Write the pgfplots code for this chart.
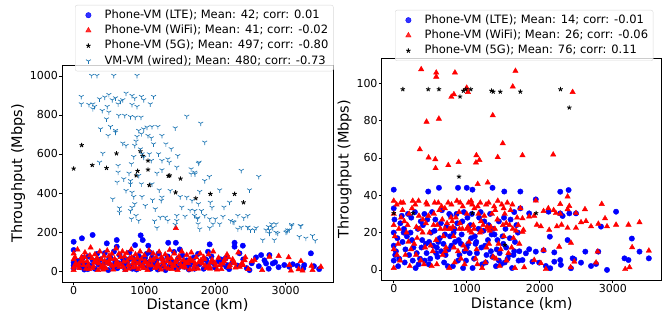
\documentclass[border=0pt]{standalone}
\usepackage{fontspec}
\setmainfont{DejaVu Sans}
\usepackage{pgfplots}
\pgfplotsset{compat=1.18}
\definecolor{ltec}{RGB}{0,0,255}
\definecolor{wific}{RGB}{255,0,0}
\definecolor{tabblue}{RGB}{31,119,180}
\pgfplotsset{
  common/.style={
    scale only axis, anchor=south west,
    axis line style={black, line width=0.8pt},
    tick style={black, line width=0.7pt},
    tick align=outside, major tick length=2.8pt,
    xtick pos=left, ytick pos=left,
    scaled x ticks=false, scaled y ticks=false,
    /pgf/number format/assume math mode=true,
    /pgf/number format/1000 sep={},
    tick label style={font=\fontsize{11}{13}\selectfont, inner sep=1.2pt},
    label style={font=\fontsize{14.5}{17}\selectfont},
    xlabel={Distance (km)}, ylabel={Throughput (Mbps)},
    xmin=-165, xmax=3670, xtick={0,1000,2000,3000},
    legend cell align=left,
    legend style={font=\fontsize{11.5}{13}\selectfont, fill=white, fill opacity=0.8, text opacity=1,
      draw=black!15, rounded corners=2pt, anchor=north west, row sep=4.3pt, column sep=4pt,
      inner xsep=3pt, inner ysep=4.5pt,
      nodes={inner xsep=2pt, inner ysep=0pt, text height=8.5pt, text depth=2.5pt}},
  },
  myleg/.style={legend image code/.code={\path (0pt,0pt) (20pt,0pt);\draw[mark repeat=2,mark phase=2,##1] plot coordinates {(0pt,0pt)(10pt,0pt)(20pt,0pt)};}},
  lte/.style={only marks, mark=*, mark size=2.7pt, color=ltec, myleg},
  wifi/.style={only marks, mark=triangle*, mark size=3.1pt, color=wific, myleg},
  fiveg/.style={only marks, mark=star, mark size=2.3pt, color=black, mark options={line width=0.9pt}, myleg},
  wired/.style={only marks, mark=Mercedes star flipped, mark size=2.8pt, color=tabblue, mark options={line width=0.7pt}, myleg},
}
\begin{document}
\begin{tikzpicture}
\begin{axis}[common,
  at={(62pt,32pt)}, width=271pt, height=217pt,
  ymin=-56, ymax=1056, ytick={0,200,400,600,800,1000},
  xlabel style={at={(axis description cs:0.5,-0.126)}, anchor=base},
  ylabel style={at={(axis description cs:-0.162,0.5)}, anchor=center},
  legend style={at={(axis description cs:0.048,1.2765)}},
]
\addplot[lte] coordinates {
(0,150)(0,108)(0,45)(0,30)(0,15)(117,168)(268,185)(469,142)(610,159)(610,125)(869,133)(948,183)(977,159)(1056,130)(1080,96)(1338,145)(1446,145)(1502,111)(1925,137)(2277,145)(2277,125)(2394,130)(1901,99)(3357,91)(2981,31)(2817,39)(2723,39)(2653,82)(2770,82)(2347,91)(3169,27)(3263,31)(3474,10)(3052,22)(2488,5)(2160,22)
(60,52)(95,20)(130,68)(150,8)(180,40)(210,75)(240,28)(270,55)(300,12)(330,88)(350,35)(380,60)(410,18)(440,92)(460,45)(490,5)(520,70)(540,30)(570,100)(590,50)(620,15)(650,82)(680,38)(700,62)(730,10)(760,48)(790,95)(810,25)(840,65)(870,42)(890,8)(920,78)(950,33)(980,58)(1000,20)(1030,88)(1060,45)(1090,12)(1110,70)(1140,36)(1170,55)(1200,90)(1220,18)(1250,62)(1280,40)(1300,5)(1330,75)(1360,28)(1390,50)(1420,98)(1450,15)(1480,65)(1510,35)(1540,80)(1570,22)(1600,55)(1630,8)(1660,42)(1700,70)(1730,25)(1760,88)(1800,48)(1840,12)(1870,60)(1900,30)(1950,75)(2000,18)(2050,50)(2100,35)(2150,65)(2200,10)(2250,45)(2320,28)(2400,60)(2450,15)(2520,40)(2580,70)(2620,25)(2700,55)(2760,12)(2850,45)(2900,20)(3100,35)(3250,15)(3400,25)
(100,38)(200,10)(320,48)(400,30)(500,58)(560,20)(640,40)(720,28)(780,60)(830,12)(900,50)(960,30)(1010,68)(1080,25)(1150,48)(1190,8)(1270,30)(1350,58)(1430,38)(1490,20)(1560,48)(1640,30)(1710,12)(1780,35)(1880,55)(1980,40)(2080,60)(2180,30)
};
\addlegendentry{Phone-VM (LTE); Mean: 42; corr: 0.01}
\addplot[wifi] coordinates {
(1446,220)(2559,56)(2667,5)(2770,73)(2901,77)(3042,70)(3052,31)(3183,9)(3216,51)(3366,27)(3498,22)(3380,5)(3239,2)(3075,2)(1925,22)
(0,90)(0,60)(0,20)(0,5)(30,40)(55,110)(80,15)(110,70)(140,30)(160,95)(190,50)(215,10)(240,120)(260,65)(280,25)(300,85)(325,45)(345,5)(370,100)(390,60)(410,30)(430,78)(455,15)(475,105)(495,50)(515,35)(540,88)(560,8)(580,62)(600,115)(625,40)(645,20)(665,72)(690,100)(710,48)(730,5)(750,92)(775,30)(795,65)(815,110)(835,18)(855,55)(875,85)(895,38)(915,10)(940,100)(960,62)(980,25)(1000,80)(1020,45)(1045,5)(1065,105)(1085,58)(1105,30)(1125,90)(1150,15)(1170,70)(1190,40)(1210,98)(1235,8)(1255,60)(1275,32)(1295,85)(1320,50)(1340,12)(1360,108)(1380,65)(1400,28)(1425,90)(1445,45)(1470,5)(1490,75)(1510,35)(1530,100)(1555,55)(1575,18)(1600,82)(1620,40)(1645,8)(1665,95)(1690,50)(1710,25)(1735,70)(1760,12)(1790,90)(1820,38)(1850,60)(1880,15)(1910,85)(1940,45)(1975,100)(2010,28)(2050,68)(2090,10)(2130,50)(2170,85)(2210,30)(2250,60)(2290,18)(2330,95)(2380,40)(2430,70)(2470,10)(2520,50)
(20,70)(70,35)(125,55)(175,12)(230,80)(290,45)(335,65)(385,18)(440,52)(500,78)(550,25)(610,50)(660,35)(720,75)(780,12)(840,40)(900,68)(950,20)(1010,50)(1070,28)(1130,60)(1200,22)(1260,45)(1330,68)(1390,10)(1450,55)(1520,20)(1590,42)(1650,62)(1720,38)(1800,55)(1860,28)(1930,12)(2000,42)(2070,30)(2140,62)(2200,20)(2280,40)(2350,22)(2420,55)
(45,25)(100,48)(155,72)(205,32)(265,15)(315,58)(360,38)(420,8)(470,42)(525,62)(590,30)(640,88)(700,22)(760,52)(820,70)(880,20)(930,42)(990,15)(1050,35)(1110,52)(1180,25)(1240,72)(1300,18)(1370,40)(1430,25)(1500,62)(1560,30)(1630,55)(1700,10)(1770,45)(1840,72)(1900,22)(1960,58)(2030,8)(2110,38)(2190,70)(2260,48)(2400,30)
};
\addlegendentry{Phone-VM (WiFi); Mean: 41; corr: -0.02}
\addplot[fiveg] coordinates {
(0,525)(113,645)(263,543)(465,528)(606,603)(885,490)(905,513)(944,614)(975,590)(1052,566)(1052,520)(1071,440)(1340,488)(1360,490)(1512,474)(1442,403)(1728,373)(1935,395)(2277,395)(2404,352)
};
\addlegendentry{Phone-VM (5G); Mean: 497; corr: -0.80}
\addplot[wired] coordinates {
(254,1002)(329,1002)(568,1002)(897,1002)(108,894)(108,856)(216,853)(272,856)(272,831)(296,843)(366,882)(441,891)(498,904)(545,877)(592,887)(629,856)(662,870)(695,877)(742,911)(826,899)(864,885)(958,894)(991,877)(1131,894)(1085,856)(826,853)(897,843)(474,843)(404,822)(498,814)(639,797)(723,797)(803,791)(873,788)(953,788)(465,779)(1601,793)(1437,733)(1038,737)(1108,740)(1192,740)(991,728)(920,720)(958,703)(592,720)(521,740)(380,728)(488,694)(592,711)(897,689)(1052,694)(1099,682)(1249,694)(1305,651)(1131,651)(695,655)(742,643)(864,643)(883,665)(944,625)(967,600)(991,583)(1071,600)(1202,600)(1099,566)(1249,566)(1352,557)(1474,591)(1380,626)(1765,552)(1718,497)(1662,523)(817,549)(850,586)(803,463)(629,540)(629,506)(413,603)(366,557)(615,455)(709,472)(784,501)(920,489)(1178,501)(1249,518)(1333,574)(1460,532)(1662,497)(1108,446)(1211,415)(958,446)(803,446)(742,412)(826,403)(850,381)(967,381)(1117,364)(1249,378)(1366,412)(1507,381)(1601,378)(1676,361)(1765,344)(554,369)(648,323)(648,301)(803,309)(826,326)(864,344)(1014,335)(1155,318)(1239,361)(883,284)(817,267)(920,258)(1225,275)(1296,275)(1333,258)(1460,284)(1460,258)(1577,280)(1648,311)(1709,284)(1756,272)(1178,221)(1437,238)(1531,327)(1145,256)
(1798,757)(1854,660)(1775,557)(1714,506)(1920,484)(1854,463)(2371,515)(2620,484)(2066,415)(2488,415)(1784,407)(2206,352)(2127,327)(1934,352)(1958,326)(1714,309)(1808,309)(1854,284)(1751,267)(1925,267)(2005,267)(1972,241)(2066,241)(2113,279)(2221,258)(2268,250)(2324,284)(2408,272)(2465,284)(2324,215)(2465,224)(2502,210)(2582,221)(2770,210)(2803,241)(2756,227)(2864,198)(3028,210)(3085,238)(3207,232)(3005,198)(1784,215)(1925,221)(1761,241)
(3192,176)(3380,181)(3418,156)(3286,168)(3019,202)(3052,210)(3216,231)(3085,231)(2864,241)(2817,222)(2887,193)(2770,193)(2723,210)(2840,159)(2676,159)(2559,210)(2465,224)(2371,224)(2254,253)
};
\addlegendentry{VM-VM (wired); Mean: 480; corr: -0.73}
\end{axis}

\begin{axis}[common,
  at={(381.7pt,34pt)}, width=280pt, height=221.7pt,
  ymin=-5.4, ymax=113.4, ytick={0,20,40,60,80,100},
  xlabel style={at={(axis description cs:0.5,-0.128)}, anchor=base},
  ylabel style={at={(axis description cs:-0.132,0.5)}, anchor=center},
  legend style={at={(axis description cs:0.0475,1.218)}},
]
\addplot[lte] coordinates {
(0,43)(0,33)(0,20)(0,13)(0,5)(472,42)(619,44)(880,44)(1000,44)(1078,43)(1353,44)(1514,42)(1734,42)(1734,33)
(30,10)(60,2)(90,25)(120,15)(150,4)(180,18)(210,8)(240,28)(270,12)(300,1)(330,22)(360,6)(390,16)(420,30)(450,9)(480,3)(510,20)(540,13)(570,27)(600,7)(630,17)(660,32)(690,4)(720,23)(750,11)(780,29)(810,2)(840,15)(870,25)(900,8)(930,19)(960,31)(990,5)(1020,14)(1050,24)(1080,1)(1110,18)(1140,9)(1170,28)(1200,12)(1230,21)(1260,4)(1290,16)(1320,30)(1350,7)(1380,19)(1410,11)(1440,26)(1470,3)(1500,14)(1530,22)(1560,6)(1590,17)(1620,1)(1650,10)(1680,24)(1710,5)
(50,17)(110,29)(160,11)(230,20)(290,31)(340,3)(400,24)(440,14)(500,6)(560,21)(610,15)(650,10)(700,19)(740,2)(790,13)(830,22)(880,5)(920,14)(970,10)(1010,28)(1060,17)(1100,6)(1160,22)(1210,3)(1250,13)(1300,24)(1340,19)(1400,2)(1450,9)(1490,18)(1540,12)(1600,27)(1660,15)(1700,20)
(20,8)(140,22)(260,5)(380,12)(460,27)(580,9)(680,14)(770,18)(860,30)(950,1)(1040,9)(1130,15)(1240,26)(1330,10)(1420,16)(1520,4)(1640,8)
(10,27)(75,6)(135,20)(195,30)(250,16)(315,9)(370,26)(425,5)(485,15)(525,31)(590,12)(645,25)(710,8)(760,30)(820,20)(890,16)(940,26)(1000,12)(1070,30)(1120,14)(1190,31)(1270,8)(1360,22)(1440,5)(1510,28)(1580,8)(1650,31)(1720,10)
(2395,42.8)(2280,41.9)(1946,37.8)(1855,30.3)(2120,31.2)(2280,30.3)(2313,28.9)(2405,30.3)(2496,30.3)(3045,31.2)(2839,23.2)(2138,17.8)(2381,16)(3261,16.8)(1855,11.1)(1946,9.8)(1810,8.9)(2052,10.5)(2199,9.4)(2624,9.8)(2802,9.8)(3366,9.8)(3494,6.2)(3160,6.2)(3215,5.3)(2921,0)(1763,5.3)(2280,5.3)(2289,2.7)(2473,5.7)(2565,3.9)(2702,2.1)(2771,3.2)(2427,0.9)(2143,0.9)(2083,2.1)(1992,3.9)(1900,4.4)(2199,4.4)(2450,6.2)
};
\addlegendentry{Phone-VM (LTE); Mean: 14; corr: -0.01}
\addplot[wifi] coordinates {
(376,107.5)(582,105.7)(582,103.5)(838,105.7)(999,97.6)(1016,95.3)(824,94.1)(788,92.7)(1667,106.6)(1630,98.2)(449,79.4)(618,81)(1356,82.8)(1493,67.8)(357,64.6)(477,60.2)(569,59.3)(573,54.5)(747,56.1)(889,57.8)(1132,61.4)(1173,58.9)(1126,57.5)(1424,60.4)(1287,46.8)(2450,95.3)(1763,61.4)(2184,61.8)
(1946,37.1)(2381,39.3)(2849,35.3)(2280,35.3)(2404,34.2)(2052,31.5)(2117,33)(2190,32)(2221,30.4)(2280,30)(2381,32.5)(2496,30.4)(2619,32.5)(2894,27.6)(1763,27.6)(1855,28.6)(1924,29)(1960,24.2)(2015,23.3)(2129,21.4)(2234,23.3)(2298,24.2)(2381,22.5)(2496,22.5)(2565,25.5)(2633,26.1)(2702,23.3)(2802,24.7)(2921,23.3)(3045,24.2)(3215,24.2)(3366,25.5)(1776,21.4)(2266,12.4)(2427,14.5)(2052,10.6)(2793,9.8)(3265,12.1)(3494,10.3)(1924,5.3)(2015,3.6)(2423,1.4)(2473,4.4)(2771,3.9)(3170,0.4)(3229,1.4)(1786,1.4)(2083,0.4)(1763,20.4)
(0,37)(0,30)(0,24)(0,11)(0,1)
(40,35)(70,22)(100,28)(130,36)(160,8)(190,24)(220,2)(250,33)(280,14)(310,23)(340,37)(370,5)(400,27)(430,12)(460,35)(490,20)(520,2)(550,30)(580,16)(610,36)(640,22)(670,8)(700,33)(730,25)(760,1)(790,35)(820,18)(850,28)(880,10)(910,36)(940,22)(970,3)(1000,30)(1030,15)(1060,37)(1090,24)(1120,6)(1150,34)(1180,20)(1210,1)(1240,29)(1270,12)(1300,36)(1330,23)(1360,7)(1390,32)(1420,27)(1450,2)(1480,35)(1510,18)(1540,25)(1570,9)(1600,32)(1630,22)(1660,1)(1690,28)(1720,14)
(60,14)(120,32)(175,20)(235,11)(295,35)(355,22)(415,3)(475,29)(535,10)(595,24)(655,34)(715,12)(775,22)(835,4)(895,31)(955,13)(1015,23)(1075,35)(1135,11)(1195,26)(1255,4)(1315,21)(1375,34)(1435,14)(1495,24)(1555,36)(1615,12)(1675,21)(1735,33)
(85,5)(210,30)(320,17)(440,25)(560,36)(680,18)(800,26)(920,6)(1040,21)(1160,30)(1280,23)(1400,6)(1520,30)(1640,17)(700,22)(760,22)(810,23)(900,22)(1000,22)(1100,22)(1200,21)(1300,22)(1150,46)
(15,18)(45,8)(95,36)(145,26)(200,15)(260,37)(305,8)(345,29)(395,20)(445,36)(505,13)(545,24)(590,3)(625,32)(665,27)(705,10)(745,36)(785,28)(825,12)(865,37)(905,25)(945,34)(985,11)(1025,36)(1065,20)(1105,33)(1145,3)(1185,36)(1225,24)(1265,35)(1305,14)(1345,30)(1385,22)(1425,37)(1465,11)(1505,33)(1545,5)(1585,24)(1625,35)(1705,24)
};
\addlegendentry{Phone-VM (WiFi); Mean: 26; corr: -0.06}
\addplot[fiveg] coordinates {
(0,30.4)(124,96.8)(266,30.4)(472,96.8)(619,96.8)(894,50)(908,92.9)(954,96)(986,96.8)(1055,96.8)(1078,30.4)(1339,96)(1362,95.5)(1459,95.5)(1523,13.4)(1734,95.5)(1950,30.4)(2284,96.8)(2404,87)
};
\addlegendentry{Phone-VM (5G); Mean: 76; corr: 0.11}
\end{axis}
\pgfresetboundingbox
\path[use as bounding box] (0,0) rectangle (665pt,314pt);
\end{tikzpicture}
\end{document}
